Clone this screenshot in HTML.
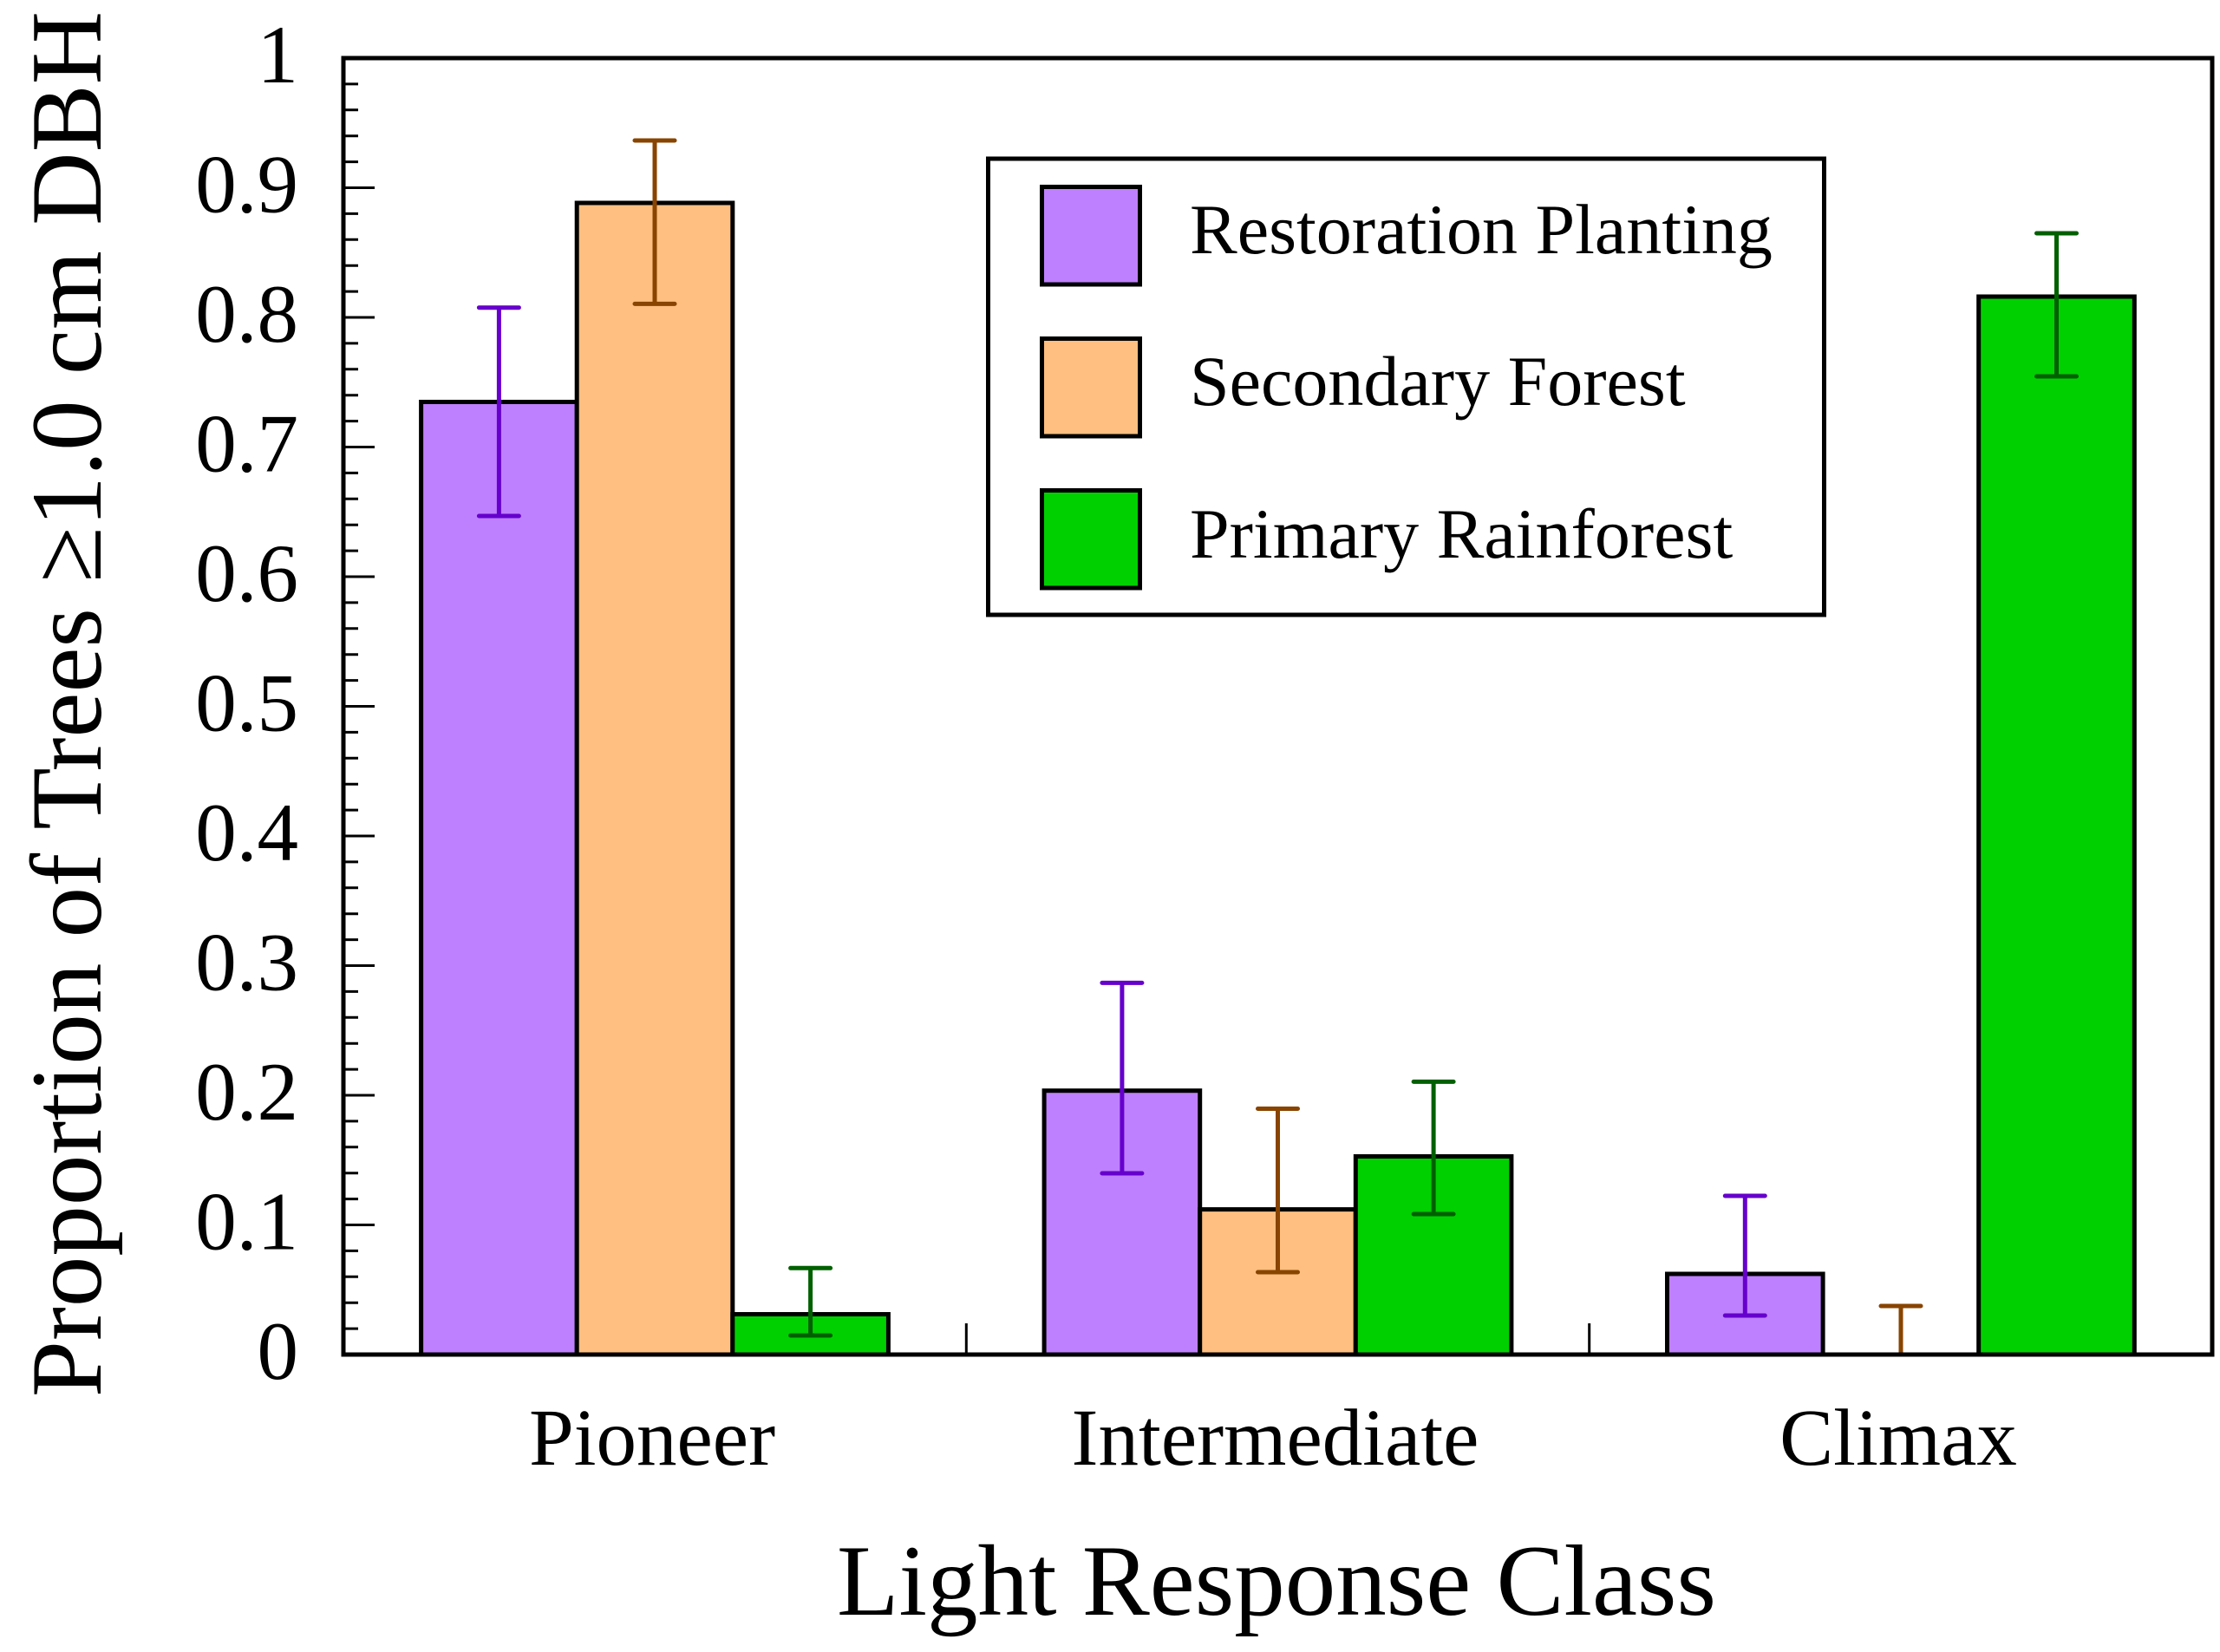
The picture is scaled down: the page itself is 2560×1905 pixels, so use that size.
<!DOCTYPE html>
<html>
<head>
<meta charset="utf-8">
<style>
html,body{margin:0;padding:0;background:#fff;}
svg{display:block;}
text{font-family:"Liberation Serif","Times New Roman",serif;fill:#000;}
</style>
</head>
<body>
<svg width="2560" height="1905" viewBox="0 0 2560 1905" xmlns="http://www.w3.org/2000/svg">
<rect x="0" y="0" width="2560" height="1905" fill="#fff"/>

<!-- y ticks -->
<g stroke="#000" stroke-width="3" fill="none">
<path d="M396 1562h36M396 1532.1h17M396 1502.2h17M396 1472.3h17M396 1442.4h17
M396 1412.5h36M396 1382.6h17M396 1352.7h17M396 1322.8h17M396 1292.9h17
M396 1263h36M396 1233.1h17M396 1203.2h17M396 1173.3h17M396 1143.4h17
M396 1113.5h36M396 1083.6h17M396 1053.7h17M396 1023.8h17M396 993.9h17
M396 964h36M396 934.1h17M396 904.2h17M396 874.3h17M396 844.4h17
M396 814.5h36M396 784.6h17M396 754.7h17M396 724.8h17M396 694.9h17
M396 665h36M396 635.1h17M396 605.2h17M396 575.3h17M396 545.4h17
M396 515.5h36M396 485.6h17M396 455.7h17M396 425.8h17M396 395.9h17
M396 366h36M396 336.1h17M396 306.2h17M396 276.3h17M396 246.4h17
M396 216.5h36M396 186.6h17M396 156.7h17M396 126.8h17M396 96.9h17
M396 67h36"/>
<!-- category separators -->
<path d="M1114.3 1562v-36M1832.7 1562v-36"/>
</g>

<!-- bars -->
<g stroke="#000" stroke-width="5">
<rect x="485.6" y="463.5" width="179.6" height="1098.5" fill="#bf80ff"/>
<rect x="665.2" y="234" width="179.6" height="1328" fill="#ffbf80"/>
<rect x="844.8" y="1515.5" width="179.6" height="46.5" fill="#00d000"/>

<rect x="1204.1" y="1257.7" width="179.6" height="304.3" fill="#bf80ff"/>
<rect x="1383.7" y="1394.6" width="179.6" height="167.4" fill="#ffbf80"/>
<rect x="1563.3" y="1333.5" width="179.6" height="228.5" fill="#00d000"/>

<rect x="1922.5" y="1469" width="179.6" height="93" fill="#bf80ff"/>
<rect x="2281.7" y="342" width="179.6" height="1220" fill="#00d000"/>
</g>

<!-- error bars -->
<g stroke-width="5" stroke-linecap="round" fill="none">
<path stroke="#6600cc" d="M575.4 354.7V595M552.4 354.7h46M552.4 595h46"/>
<path stroke="#884400" d="M755 162V350.4M732 162h46M732 350.4h46"/>
<path stroke="#006000" d="M934.6 1462.3V1540M911.6 1462.3h46M911.6 1540h46"/>

<path stroke="#6600cc" d="M1293.9 1133.4V1353M1270.9 1133.4h46M1270.9 1353h46"/>
<path stroke="#884400" d="M1473.5 1278.5V1467M1450.5 1278.5h46M1450.5 1467h46"/>
<path stroke="#006000" d="M1653.1 1247.4V1400M1630.1 1247.4h46M1630.1 1400h46"/>

<path stroke="#6600cc" d="M2012.3 1379V1517M1989.3 1379h46M1989.3 1517h46"/>
<path stroke="#884400" d="M2192 1506V1560M2169 1506h46"/>
<path stroke="#006000" d="M2371.5 269V434M2348.5 269h46M2348.5 434h46"/>
</g>

<!-- frame -->
<rect x="396" y="67" width="2155" height="1495" fill="none" stroke="#000" stroke-width="5"/>

<!-- legend -->
<rect x="1139.5" y="183" width="964" height="526" fill="#fff" stroke="#000" stroke-width="5"/>
<g stroke="#000" stroke-width="5">
<rect x="1201.5" y="215.5" width="113" height="112.5" fill="#bf80ff"/>
<rect x="1201.5" y="390.5" width="113" height="112.5" fill="#ffbf80"/>
<rect x="1201.5" y="565.5" width="113" height="112.5" fill="#00d000"/>
</g>
<g font-size="82">
<text x="1372" y="292">Restoration Planting</text>
<text x="1372" y="467">Secondary Forest</text>
<text x="1372" y="643">Primary Rainforest</text>
</g>

<!-- y tick labels -->
<g font-size="95" text-anchor="end">
<text x="344" y="1590">0</text>
<text x="344" y="1440.5">0.1</text>
<text x="344" y="1291">0.2</text>
<text x="344" y="1141.5">0.3</text>
<text x="344" y="992">0.4</text>
<text x="344" y="842.5">0.5</text>
<text x="344" y="693">0.6</text>
<text x="344" y="543.5">0.7</text>
<text x="344" y="394">0.8</text>
<text x="344" y="244.5">0.9</text>
<text x="344" y="95">1</text>
</g>

<!-- category labels -->
<g font-size="93" text-anchor="middle">
<text x="752" y="1689">Pioneer</text>
<text x="1470.5" y="1689">Intermediate</text>
<text x="2189" y="1689">Climax</text>
</g>

<!-- axis titles -->
<text x="1472" y="1862" font-size="117" text-anchor="middle">Light Response Class</text>
<text transform="translate(116,812) rotate(-90)" font-size="117" text-anchor="middle">Proportion of Trees ≥1.0 cm DBH</text>
</svg>
</body>
</html>
